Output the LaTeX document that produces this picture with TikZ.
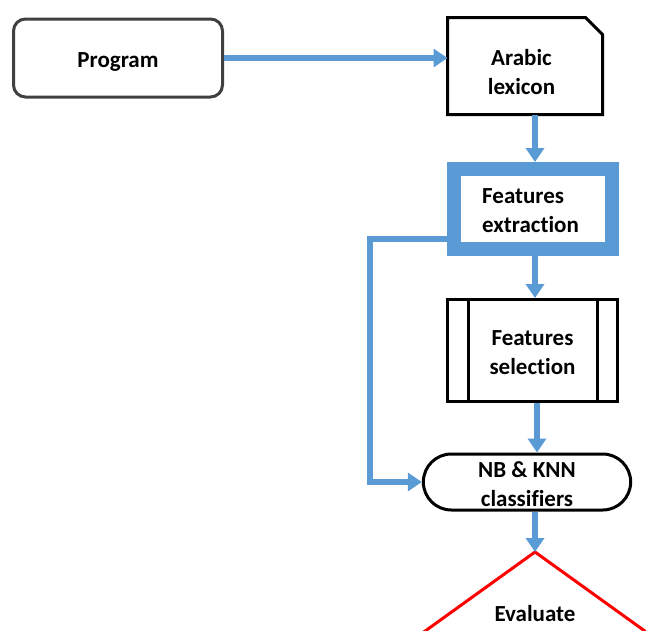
\documentclass[tikz,border=0pt]{standalone}
\usepackage{fontspec}
\setmainfont{Carlito}[Ligatures=NoCommon]
\usetikzlibrary{arrows.meta,shapes.misc}
\definecolor{flowblue}{HTML}{5B9BD5}
\definecolor{edgegray}{HTML}{404040}
\definecolor{decisionred}{HTML}{FF0000}
\begin{document}
\begin{tikzpicture}[x=1pt,y=-1pt,line join=miter,
  lbl/.style={font=\fontsize{23}{29}\selectfont\bfseries, align=center, inner sep=0pt},
  outline/.style={draw=black, line width=3pt},
  flow/.style={draw=flowblue, line width=6.5pt, -{Triangle[width=18pt,length=14pt]}}
]
\useasboundingbox (0,0) rectangle (646,630);
\clip (0,0) rectangle (646,630);

% process boxes
\node[draw=edgegray, line width=3pt, rounded corners=12pt,
      minimum width=209pt, minimum height=78pt] (prog) at (118,58) {};
\node[lbl] (progtxt) at (118,62) {Program};

\node[outer sep=0pt, minimum width=155pt, minimum height=97pt] (lex) at (525,66) {};
\draw[outline] (lex.north west) -- ([xshift=-17pt]lex.north east)
  -- ([yshift=-17pt]lex.north east) -- (lex.south east) -- (lex.south west) -- cycle;
\node[lbl] (lextxt) at (521.5,72) {Arabic\\lexicon};

\node[draw=flowblue, line width=14pt, minimum width=158pt, minimum height=80pt]
  (ext) at (533,209) {};
\node[lbl, align=left, anchor=west] (exttxt) at (482,210.5) {Features\\extraction};

\node[outline, minimum width=170pt, minimum height=102pt] (sel) at (532.5,350.5) {};
\draw[outline] ([xshift=22pt,yshift=-1.5pt]sel.north west) -- ([xshift=22pt,yshift=1.5pt]sel.south west);
\draw[outline] ([xshift=-22pt,yshift=-1.5pt]sel.north east) -- ([xshift=-22pt,yshift=1.5pt]sel.south east);
\node[lbl] (seltxt) at (532.5,353) {Features\\selection};

\node[outline, rounded rectangle, minimum width=214pt, minimum height=56pt]
  (cls) at (527,482) {};
\node[lbl] (clstxt) at (527,484) {NB \& KNN\\classifiers};

% decision
\coordinate (evtop) at (535,552);
\draw[draw=decisionred, line width=3pt] (evtop) -- ++(139,100) -- ++(-139,100) -- ++(-139,-100) -- cycle;
\node[lbl] (evtxt) at (535,614) {Evaluate};

% connectors
\draw[flow] (prog.east) -- (prog.east -| lex.west);
\draw[flow] ([xshift=10pt]lex.south) -- ([xshift=2pt]ext.north);
\draw[flow] ([xshift=2pt]ext.south) -- ([xshift=2.5pt]sel.north);
\draw[flow] ([xshift=4.5pt]sel.south) -- ([xshift=10pt]cls.north);
\draw[flow] ([xshift=8pt]cls.south) -- (evtop);
\draw[flow] ([yshift=-30pt]ext.west) -- ++(-77,0) |- (cls.west);
\end{tikzpicture}
\end{document}
